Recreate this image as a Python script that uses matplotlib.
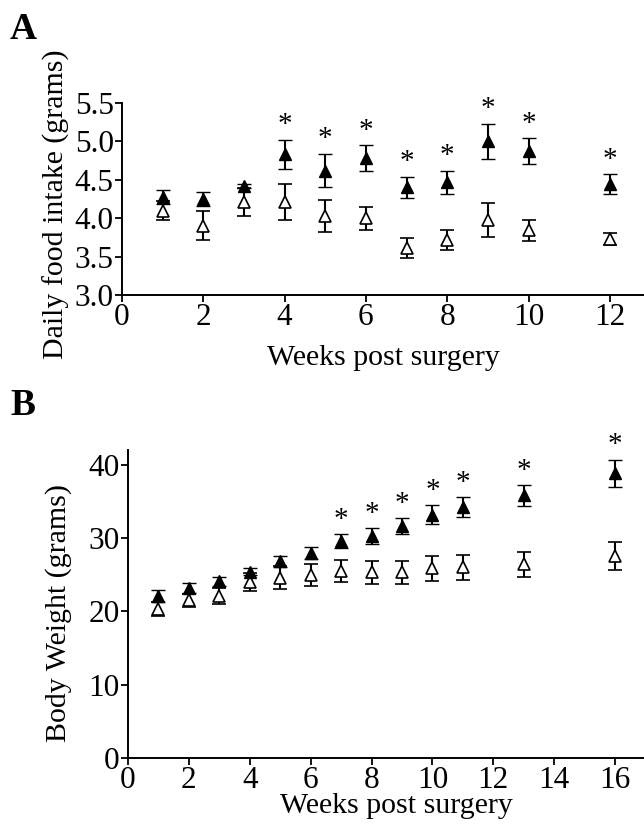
import numpy as np
import matplotlib
matplotlib.use("Agg")
import matplotlib.pyplot as plt

plt.rcParams['font.family'] = ['Liberation Serif', 'DejaVu Serif']

# Panel A: daily food intake
weeks_a = [1, 2, 3, 4, 5, 6, 7, 8, 9, 10, 12]
food_filled = [4.28, 4.25, 4.42, 4.83, 4.62, 4.78, 4.40, 4.47, 5.00, 4.87, 4.44]
food_filled_err = [0.09, 0.09, 0.03, 0.19, 0.22, 0.17, 0.14, 0.15, 0.23, 0.17, 0.13]
food_open = [4.10, 3.90, 4.21, 4.21, 4.03, 4.00, 3.61, 3.72, 3.98, 3.84, 3.73]
food_open_err = [0.12, 0.19, 0.18, 0.23, 0.21, 0.15, 0.13, 0.13, 0.22, 0.14, 0.08]
food_sig = [False, False, False, True, True, True, True, True, True, True, True]

# Panel B: body weight
weeks_b = [1, 2, 3, 4, 5, 6, 7, 8, 9, 10, 11, 13, 16]
bw_filled = [22.1, 23.2, 24.1, 25.4, 26.8, 28.0, 29.6, 30.3, 31.6, 33.2, 34.2, 35.8, 38.8]
bw_filled_err = [0.85, 0.65, 0.65, 0.5, 0.75, 0.8, 0.95, 1.05, 1.1, 1.3, 1.35, 1.4, 1.9]
bw_open = [20.3, 21.5, 22.1, 24.0, 24.6, 24.9, 25.5, 25.3, 25.3, 25.9, 26.0, 26.4, 27.6]
bw_open_err = [0.95, 0.9, 1.1, 1.25, 1.55, 1.5, 1.5, 1.55, 1.6, 1.7, 1.75, 1.65, 1.9]
bw_sig = [False, False, False, False, False, False, True, True, True, True, True, True, True]

W, H = 644, 824
fig = plt.figure(figsize=(W / 100, H / 100), dpi=100)

ax_a = fig.add_axes([122 / W, (H - 295) / H, 1 - 122 / W, (295 - 103) / H])
ax_b = fig.add_axes([128 / W, (H - 758) / H, 1 - 128 / W, (758 - 450) / H])


def draw_panel(ax, x, yf, ef, yo, eo, sig):
    ax.errorbar(x, yo, yerr=eo, fmt='^', color='black', mfc='white', mec='black',
                ms=8, mew=1.2, elinewidth=1.5, capsize=5, capthick=1.5, zorder=2)
    ax.errorbar(x, yf, yerr=ef, fmt='^', color='black', mfc='black', mec='black',
                ms=8, mew=1.0, elinewidth=1.5, capsize=5, capthick=1.5, zorder=3)
    for xi, yi, ei, s in zip(x, yf, ef, sig):
        if s:
            ax.annotate('*', (xi, yi + ei), xytext=(0, 1), textcoords='offset points',
                        ha='center', va='bottom', fontsize=21)
    for side in ['top', 'right']:
        ax.spines[side].set_visible(False)
    for side in ['left', 'bottom']:
        ax.spines[side].set_linewidth(1.4)
    ax.tick_params(direction='out', length=5, width=1.3, labelsize=22.5, pad=1)


draw_panel(ax_a, weeks_a, food_filled, food_filled_err, food_open, food_open_err, food_sig)
ax_a.set_xlim(0, 12.84)
ax_a.set_ylim(3.0, 5.5)
ax_a.set_xticks(range(0, 13, 2))
ax_a.set_yticks(np.arange(3.0, 5.51, 0.5))
ax_a.set_yticklabels(['%.1f' % v for v in np.arange(3.0, 5.51, 0.5)])
ax_a.set_xlabel('Weeks post surgery', fontsize=21.5)
ax_a.set_ylabel('Daily food intake (grams)', fontsize=21.5)
ax_a.xaxis.set_label_coords(0.5, -0.26)
ax_a.yaxis.set_label_coords(-0.1, 0.474)

draw_panel(ax_b, weeks_b, bw_filled, bw_filled_err, bw_open, bw_open_err, bw_sig)
ax_b.set_xlim(0, 16.95)
ax_b.set_ylim(0, 42)
ax_b.set_xticks(range(0, 17, 2))
ax_b.set_yticks([0, 10, 20, 30, 40])
ax_b.set_xlabel('Weeks post surgery', fontsize=21.5)
ax_b.set_ylabel('Body Weight (grams)', fontsize=21.5)
ax_b.xaxis.set_label_coords(0.52, -0.115)
ax_b.yaxis.set_label_coords(-0.108, 0.472)

fig.text(10 / W, 1 - 12 / H, 'A', fontsize=27, fontweight='bold', va='top', ha='left')
fig.text(10 / W, 1 - 388 / H, 'B', fontsize=27, fontweight='bold', va='top', ha='left')

fig.savefig('out.png', dpi=100)
